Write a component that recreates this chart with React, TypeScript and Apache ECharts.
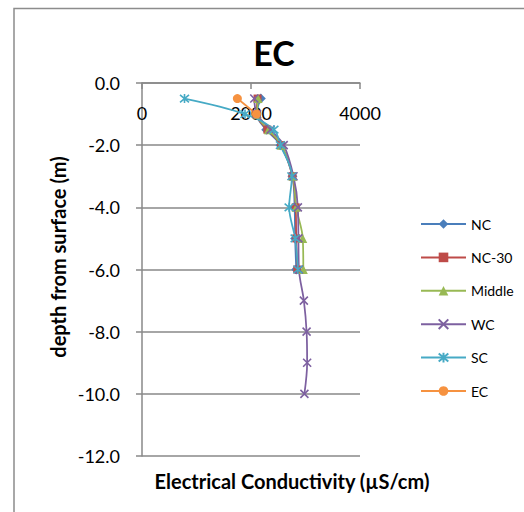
import React, { useEffect, useRef } from "react";
import * as echarts from "echarts";

const depthsShallow = [-0.5, -1, -1.5, -2, -3, -4, -5, -6];
const depthsWC = [-0.5, -1, -1.5, -2, -3, -4, -5, -6, -7, -8, -9, -10];
const depthsEC = [-0.5, -1];

const ncValues = [2180, 2100, 2280, 2540, 2760, 2800, 2810, 2830];
const nc30Values = [2120, 2100, 2300, 2550, 2760, 2820, 2830, 2850];
const middleValues = [2130, 2110, 2320, 2560, 2770, 2830, 2950, 2960];
const wcValues = [2060, 2110, 2360, 2600, 2780, 2860, 2870, 2880, 2970, 3020, 3030, 2980];
const scValues = [780, 1890, 2420, 2540, 2750, 2700, 2810, 2860];
const ecValues = [1750, 2100];

const seriesNames = ["NC", "NC-30", "Middle", "WC", "SC", "EC"];
const yTicks = [0, -2, -4, -6, -8, -10, -12];
const xTicks = [0, 2000, 4000];

const FONT = "Lato, 'Open Sans', sans-serif";

export default function App() {
  const ref = useRef<HTMLDivElement>(null);
  useEffect(() => {
    if (!ref.current) return;
    const chart = echarts.init(ref.current, undefined, { renderer: "svg" });
    const pair = (vals: number[], depths: number[]) => vals.map((v, i) => [v, depths[i]]);
    const mk = (
      name: string,
      data: number[][],
      color: string,
      symbol: string,
      symbolSize: number,
      stroke: boolean
    ) => ({
      name,
      type: "line",
      data,
      smooth: 0.35,
      symbol,
      symbolSize,
      showSymbol: true,
      lineStyle: { color, width: 1.75 },
      itemStyle: stroke
        ? { color, borderColor: color, borderWidth: 1.6 }
        : { color, borderWidth: 0 },
    });
    const crossPath = "path://M0,0L10,10M10,0L0,10";
    const starPath = "path://M0,0L10,10M10,0L0,10M5,-1L5,11";
    chart.setOption({
      animation: false,
      grid: { left: 142, top: 83, width: 218, height: 373, containLabel: false },
      xAxis: {
        type: "value",
        position: "top",
        min: xTicks[0],
        max: xTicks[xTicks.length - 1],
        interval: 2000,
        axisLine: { show: true, lineStyle: { color: "#888", width: 1.5 } },
        axisTick: { show: true, inside: true, length: 6, lineStyle: { color: "#888", width: 1.5 } },
        axisLabel: {
          inside: true,
          margin: 21,
          fontSize: 18,
          fontFamily: FONT,
          color: "#000",
          formatter: (v: number) => String(v),
        },
        splitLine: { show: false },
      },
      yAxis: {
        type: "value",
        min: yTicks[yTicks.length - 1],
        max: yTicks[0],
        interval: 2,
        axisLine: { show: true, lineStyle: { color: "#888", width: 1.5 } },
        axisTick: { show: true, inside: false, length: 6, lineStyle: { color: "#888", width: 1.5 } },
        axisLabel: {
          margin: 22,
          fontSize: 18,
          fontFamily: FONT,
          color: "#000",
          formatter: (v: number) => v.toFixed(1),
        },
        splitLine: { show: true, lineStyle: { color: "#888", width: 1.5 } },
      },
      legend: {
        orient: "vertical",
        left: 415,
        top: 212,
        itemWidth: 45,
        itemHeight: 12,
        itemGap: 19.4,
        data: seriesNames,
        textStyle: { fontSize: 14, fontFamily: FONT, color: "#000" },
      },
      graphic: [
        {
          type: "rect",
          shape: { x: 14, y: 8.5, width: 600, height: 600 },
          style: { fill: "none", stroke: "#8c8c8c", lineWidth: 1.5 },
          silent: true,
        },
        {
          type: "text",
          x: 274,
          y: 52,
          style: {
            text: "EC",
            fontSize: 34,
            fontWeight: "bold",
            fontFamily: FONT,
            fill: "#000",
            textAlign: "center",
            textVerticalAlign: "middle",
          },
        },
        {
          type: "text",
          x: 292,
          y: 481,
          style: {
            text: "Electrical Conductivity (µS/cm)",
            fontSize: 20,
            fontWeight: "bold",
            fontFamily: FONT,
            fill: "#000",
            textAlign: "center",
            textVerticalAlign: "middle",
          },
        },
        {
          type: "text",
          x: 58,
          y: 257,
          rotation: Math.PI / 2,
          style: {
            text: "depth from surface (m)",
            fontSize: 20,
            fontWeight: "bold",
            fontFamily: FONT,
            fill: "#000",
            textAlign: "center",
            textVerticalAlign: "middle",
          },
        },
      ],
      series: [
        mk(seriesNames[0], pair(ncValues, depthsShallow), "#4A7EBB", "diamond", 10, false),
        mk(seriesNames[1], pair(nc30Values, depthsShallow), "#BE4B48", "rect", 8, false),
        mk(seriesNames[2], pair(middleValues, depthsShallow), "#98B954", "triangle", 9, false),
        mk(seriesNames[3], pair(wcValues, depthsWC), "#7D60A0", crossPath, 8, true),
        mk(seriesNames[4], pair(scValues, depthsShallow), "#46AAC5", starPath, 9, true),
        mk(seriesNames[5], pair(ecValues, depthsEC), "#F69240", "circle", 9, false),
      ],
    });
    return () => chart.dispose();
  }, []);
  return (
    <div
      ref={ref}
      style={{ position: "fixed", left: 0, top: 0, width: 524, height: 512, background: "#fff" }}
    />
  );
}
